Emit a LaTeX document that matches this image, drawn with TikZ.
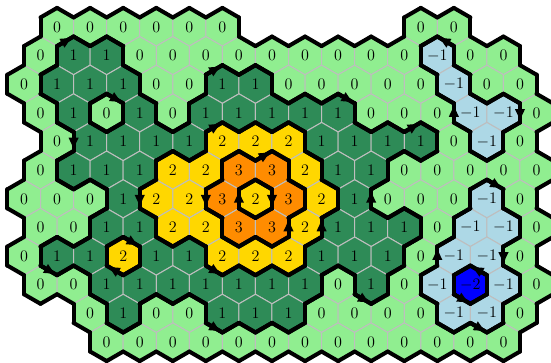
\documentclass[tikz,border=0pt]{standalone}
\usetikzlibrary{arrows.meta}
\definecolor{lvlmtwo}{HTML}{0000FF}
\definecolor{lvlmone}{HTML}{ADD8E6}
\definecolor{lvlzero}{HTML}{90EE90}
\definecolor{lvlone}{HTML}{2E8B57}
\definecolor{lvltwo}{HTML}{FFD700}
\definecolor{lvlthree}{HTML}{FF8C00}
\definecolor{gridgray}{HTML}{BEBEBE}
% cell values, row by row (9 = no cell)
\newcommand\hexrow[2]{%
  \foreach \v [count=\k from 0] in {#2}{%
    \ifnum\v=9 \else
      \expandafter\xdef\csname hv-#1-\k\endcsname{\v}%
    \fi}}
\newcommand\getval[2]{%
  \ifcsname hv-#1-#2\endcsname
    \edef\nv{\csname hv-#1-#2\endcsname}%
  \else
    \def\nv{9}%
  \fi}
\newcommand\lvlcolor[1]{\ifcase\numexpr#1+2\relax lvlmtwo\or lvlmone\or lvlzero\or lvlone\or lvltwo\or lvlthree\fi}
\hexrow{0}{9,0,0,0,0,0,0,9,9,9,9,9,0,0,9,9}
\hexrow{1}{0,1,1,0,0,0,0,0,0,0,0,0,-1,0,0,9}
\hexrow{2}{0,1,1,1,0,0,1,1,0,0,0,0,0,-1,0,0}
\hexrow{3}{0,1,0,1,0,1,1,1,1,1,0,0,0,-1,-1,0}
\hexrow{4}{9,0,1,1,1,1,2,2,2,1,1,1,1,0,-1,0}
\hexrow{5}{0,1,1,1,2,2,3,3,2,1,1,0,0,0,0,0}
\hexrow{6}{0,0,0,1,2,2,3,2,3,2,1,0,0,0,-1,0}
\hexrow{7}{0,0,1,1,2,2,3,3,2,1,1,1,0,-1,-1,0}
\hexrow{8}{0,1,1,2,1,1,2,2,2,1,1,1,0,-1,-1,0}
\hexrow{9}{0,0,1,1,1,1,1,1,1,0,1,0,-1,-2,-1,0}
\hexrow{10}{9,9,0,1,0,0,1,1,1,0,0,0,0,-1,-1,0}
\hexrow{11}{9,9,0,0,0,0,0,0,0,0,0,0,0,0,0,9}

\begin{document}
\begin{tikzpicture}[x=5mm,y=5mm,
  hexcell/.style={draw=gridgray,line width=0.75pt},
  cellvalue/.style={font=\large,inner sep=0pt},
  contour/.style={line width=3pt,line cap=round,line join=round},
  flowtip/.style={line width=3pt,-{Latex[length=10pt,width=8pt]}}]
\useasboundingbox (-1.257,1.414) rectangle (27.606,-17.549);
% cells
\foreach \r in {0,...,11}{
  \foreach \k in {0,...,15}{
    \getval{\r}{\k}
    \ifnum\nv=9 \else
      \edef\hc{\lvlcolor{\nv}}
      \pgfmathsetmacro\cx{1.7320508*\k+0.8660254*mod(\r,2)}
      \path[hexcell,fill=\hc] (\cx,-1.5*\r) +(30:1) -- +(90:1) -- +(150:1)
        -- +(210:1) -- +(270:1) -- +(330:1) -- cycle;
      \node[cellvalue] (h-\r-\k) at (\cx,-1.5*\r) {$\nv$};
    \fi}}
% level lines: every edge between two different values
\foreach \r in {0,...,11}{
  \foreach \k in {0,...,15}{
    \getval{\r}{\k}\let\cv\nv
    \ifnum\cv=9 \else
      \pgfmathtruncatemacro\odd{mod(\r,2)}
      \foreach \dr/\dk/\a in {0/1/-30,-1/\odd/30,-1/\odd-1/90,0/-1/150,1/\odd-1/210,1/\odd/270}{
        \pgfmathtruncatemacro\nr{\r+\dr}
        \pgfmathtruncatemacro\nk{\k+\dk}
        \getval{\nr}{\nk}
        \ifnum\nv=\cv\else
          \draw[contour] (h-\r-\k.center) ++(\a:1) -- ++(\a+120:1);
        \fi}
    \fi}}
% arrow heads on the level lines
\foreach \r/\k/\a/\b [count=\i] in {1/1/150/90, 2/3/210/270, 2/6/150/90, 3/9/90/30,
    1/12/30/90, 3/13/210/150, 3/14/30/-30, 4/2/150/210, 4/12/150/90, 4/6/150/90,
    5/7/150/90, 6/4/150/210, 6/6/150/210, 6/6/-30/30, 6/8/150/210, 7/7/-30/30,
    7/8/-30/30, 6/10/-30/30, 6/14/90/30, 8/1/210/270, 8/3/270/210, 8/3/90/30,
    8/6/210/270, 10/6/210/270, 9/10/210/270, 8/13/210/150, 8/14/30/-30,
    9/13/30/90, 9/13/210/270, 10/14/210/270}{
  \path (h-\r-\k.center) +(\a:1) coordinate (t\i a) +(\b:1) coordinate (t\i b);
  \draw[flowtip] (t\i a) -- (t\i b);
}
\end{tikzpicture}
\end{document}
